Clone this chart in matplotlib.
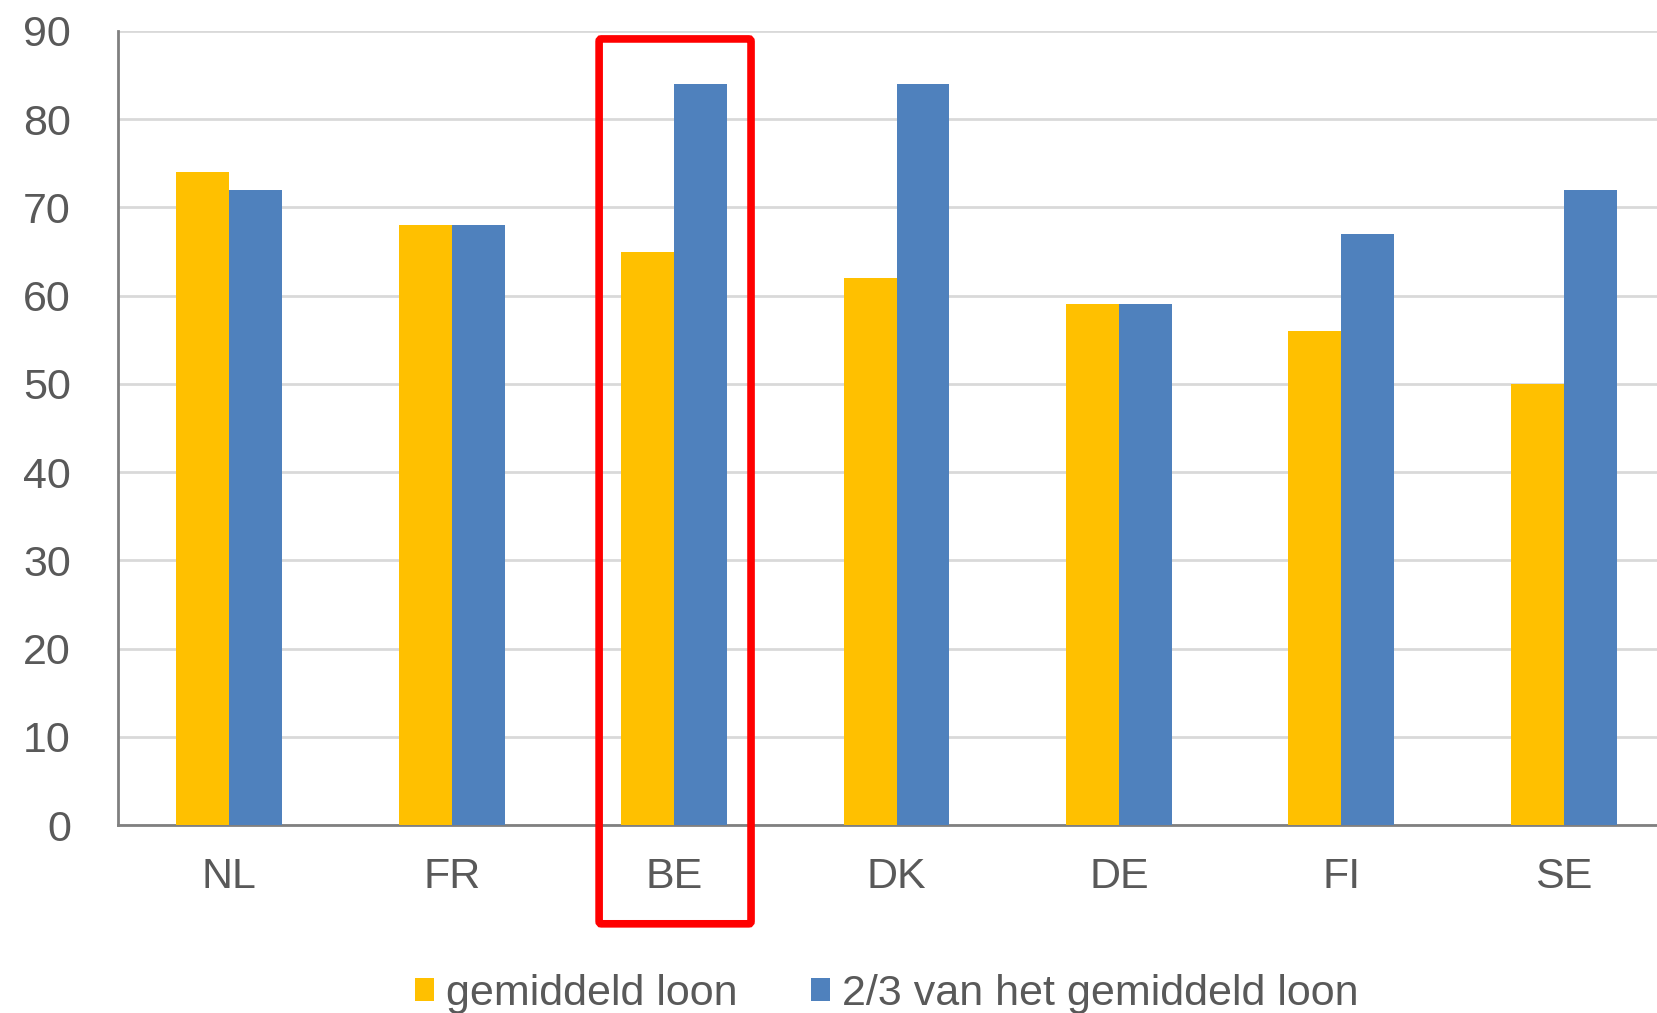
import matplotlib
matplotlib.use("Agg")
import matplotlib.pyplot as plt
import numpy as np
from matplotlib.patches import FancyBboxPatch

categories = ["NL", "FR", "BE", "DK", "DE", "FI", "SE"]
gemiddeld = [74, 68, 65, 62, 59, 56, 50]
twee_derde = [72, 68, 84, 84, 59, 67, 72]
series_names = ["gemiddeld loon", "2/3 van het gemiddeld loon"]
yticks = [0, 10, 20, 30, 40, 50, 60, 70, 80, 90]

plt.rcParams['font.family'] = ['Liberation Sans', 'DejaVu Sans']
txt = '#595959'

fig = plt.figure(figsize=(16.57, 10.13), dpi=100)
ax = fig.add_axes([118/1657, 1-825/1013, (1675-118)/1657, (825-31)/1013])

x = np.arange(len(categories))
w = 0.238
ax.bar(x - w/2, gemiddeld, w, color='#FFC000', label=series_names[0], zorder=3)
ax.bar(x + w/2, twee_derde, w, color='#4F81BD', label=series_names[1], zorder=3)

ax.set_xlim(-0.5, len(categories) - 0.5)
ax.set_ylim(0, 90)
ax.set_yticks(yticks)
ax.set_xticks(x)
ax.set_xticklabels(categories)
ax.yaxis.grid(True, color='#D9D9D9', linewidth=2, zorder=0)
ax.set_axisbelow(True)
for s in ['top', 'right']:
    ax.spines[s].set_visible(False)
for s in ['left', 'bottom']:
    ax.spines[s].set_color('#808080')
    ax.spines[s].set_linewidth(2)
ax.tick_params(axis='y', length=0, pad=34, labelsize=31, labelcolor=txt)
ax.tick_params(axis='x', length=0, pad=23, labelsize=31, labelcolor=txt)

# red highlight box around BE
rect = FancyBboxPatch((1.663, -11.2), 2.346 - 1.663, 89.1 + 11.2,
                      boxstyle="round,pad=0,rounding_size=0.01",
                      fill=False, edgecolor='#FF0000', linewidth=5.5,
                      clip_on=False, zorder=5, mutation_aspect=30)
ax.add_patch(rect)

fig.legend(loc='center', bbox_to_anchor=(0.535, 0.019), ncol=2, frameon=False,
           fontsize=31, labelcolor=txt, handlelength=0.45, handleheight=0.45,
           handletextpad=0.27, columnspacing=1.7, borderaxespad=0)

fig.savefig("out.png", dpi=100)
